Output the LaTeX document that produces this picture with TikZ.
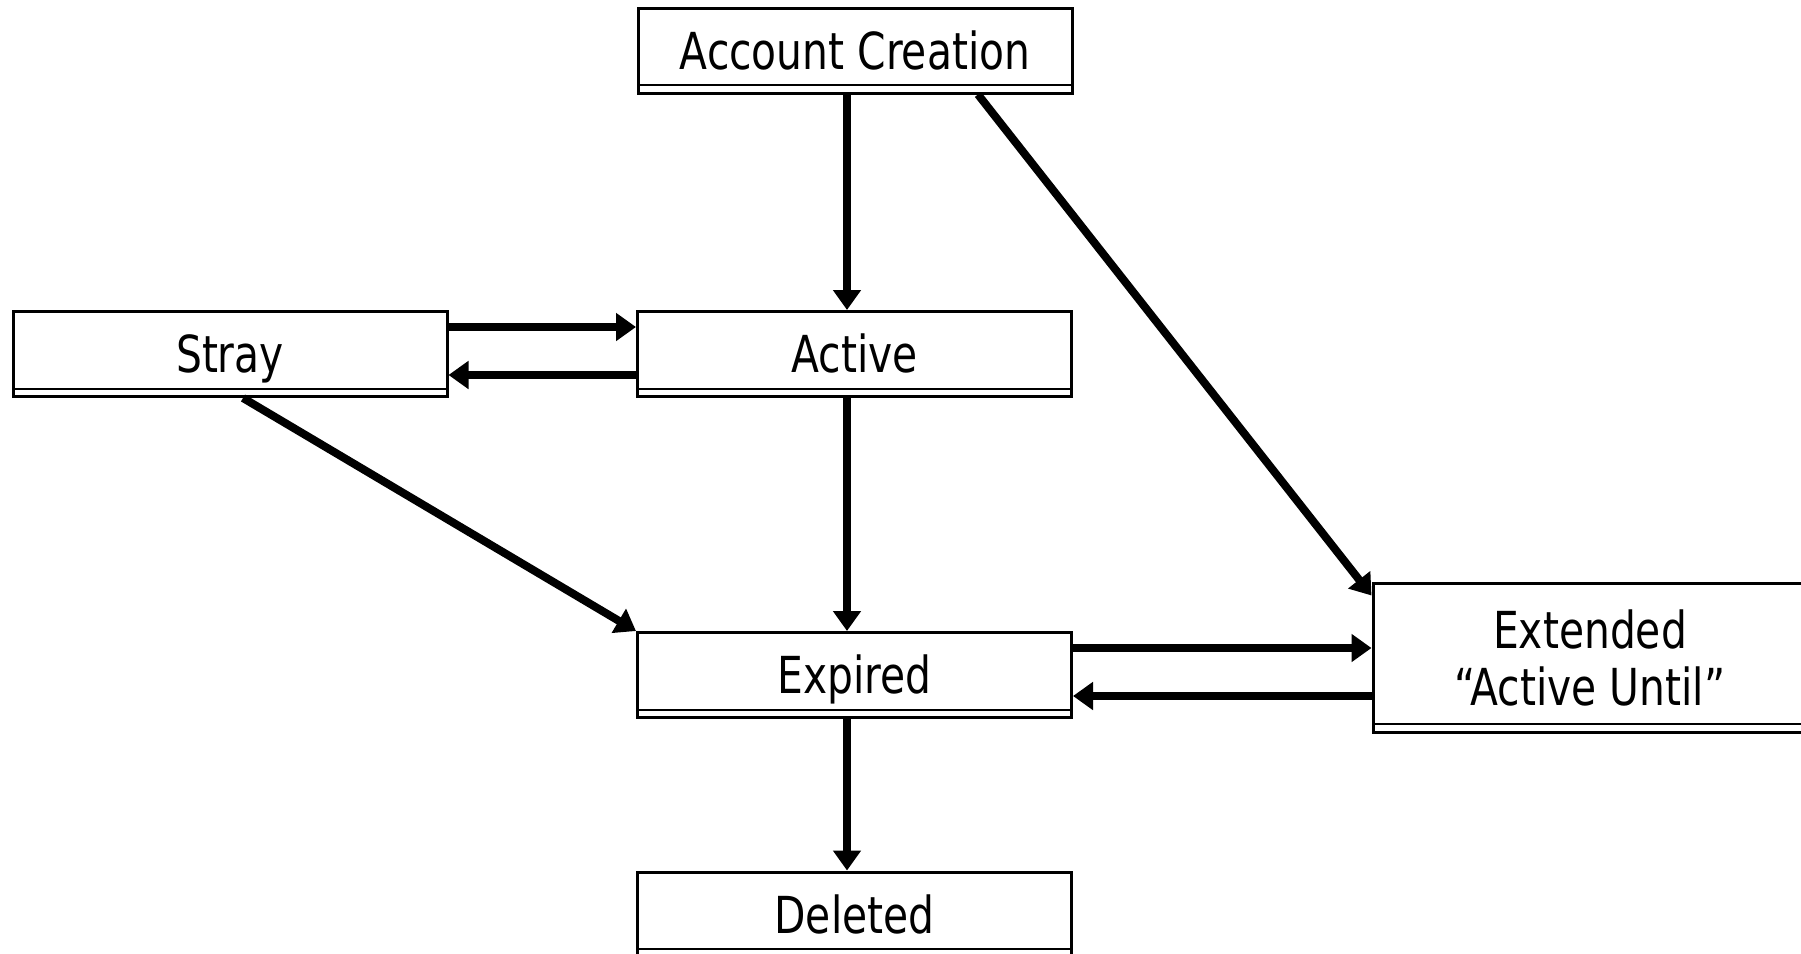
\documentclass[tikz,border=0pt]{standalone}
\usepackage{fontspec}
\setmainfont{DejaVu Sans}[FakeStretch=0.8]
\usetikzlibrary{arrows.meta}

\tikzset{
  statebox/.style={
    draw, line width=1.5pt, fill=white,
    minimum width=217pt, minimum height=42.5pt, inner sep=0pt,
    font=\fontsize{25.5}{28.5}\selectfont,
    text height=18.6pt, text depth=0pt,
    path picture={\draw[line width=1pt]
      ([yshift=4pt]path picture bounding box.south west) --
      ([yshift=4pt]path picture bounding box.south east);}
  },
  flow/.style={line width=4pt, -{Triangle[length=10pt, width=13.5pt]}}
}

\begin{document}
\begin{tikzpicture}[x=0.5pt, y=-0.5pt]
  \useasboundingbox (0,0) rectangle (1801,954);

  % states
  \node[statebox] (create) at (855,50.5) {Account Creation};
  \node[statebox] (active) at (854.5,354) {Active};
  \node[statebox] (stray) at (230,354) {Stray};
  \node[statebox] (expired) at (854.5,675) {Expired};
  \node[statebox] (deleted) at (854.5,914.5) {Deleted};
  \node[statebox, minimum height=74.5pt, align=center,
        text height=, text depth=] (extended) at (1590,657.5)
        {Extended\\\textquotedblleft Active Until\textquotedblright};

  % vertical transitions
  \draw[flow] ([xshift=-4pt]create.south) -- ([xshift=-3.75pt]active.north);
  \draw[flow] ([xshift=-3.75pt]active.south) -- ([xshift=-3.75pt]expired.north);
  \draw[flow] ([xshift=-3.75pt]expired.south) -- ([xshift=-3.75pt]deleted.north);

  % Stray <-> Active
  \coordinate (sa1) at ([yshift=13.5pt]stray.east);
  \draw[flow] (sa1) -- (sa1 -| active.west);
  \coordinate (sa2) at ([yshift=-10.5pt]active.west);
  \draw[flow] (sa2) -- (sa2 -| stray.east);

  % Expired <-> Extended
  \coordinate (ee) at ([yshift=13.5pt]expired.east);
  \draw[flow] (ee) -- (ee -| extended.west);
  \coordinate (xe) at ([yshift=-10.5pt]expired.east);
  \draw[flow] (xe -| extended.west) -- (xe);

  % diagonal transitions
  \draw[flow] ([xshift=61.5pt]create.south) -- ([yshift=-7pt]extended.north west);
  \draw[flow] ([xshift=6.5pt]stray.south) -- (expired.north west);
\end{tikzpicture}
\end{document}
